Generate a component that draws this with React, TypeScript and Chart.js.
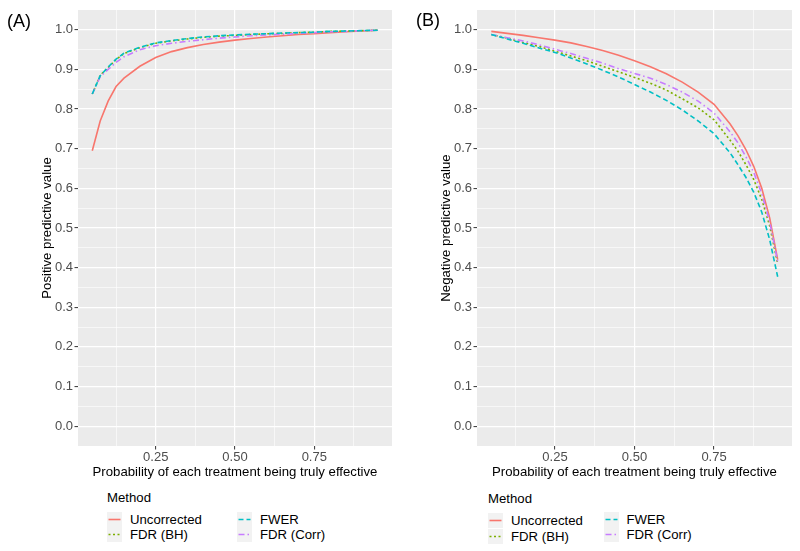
import React, { useEffect, useRef } from "react";
import { Chart, registerables } from "chart.js";

Chart.register(...registerables);

// ---- Data ----
const methods = ["Uncorrected", "FDR (BH)", "FWER", "FDR (Corr)"];
const methodColors = ["#F8766D", "#7CAE00", "#00BFC4", "#C77CFF"];
const methodDashes = [[], [2, 2.5], [5, 3], [6, 3, 1.5, 3]];
const drawOrder = [3, 2, 0, 1];

const xTickValues = [0.25, 0.5, 0.75];
const xMinorValues = [0.125, 0.375, 0.625, 0.875];
const yTickValues = [0, 0.1, 0.2, 0.3, 0.4, 0.5, 0.6, 0.7, 0.8, 0.9, 1.0];
const yMinorValues = [0.05, 0.15, 0.25, 0.35, 0.45, 0.55, 0.65, 0.75, 0.85, 0.95];

// Panel A: positive predictive value
const xA = [0.05, 0.075, 0.1, 0.125, 0.15, 0.2, 0.25, 0.3, 0.35, 0.4, 0.45, 0.5, 0.55, 0.6, 0.65, 0.7, 0.75, 0.8, 0.85, 0.9, 0.95];
const ppvUncorrected = [0.695, 0.77, 0.82, 0.857, 0.878, 0.908, 0.93, 0.945, 0.955, 0.963, 0.969, 0.974, 0.978, 0.982, 0.985, 0.988, 0.99, 0.993, 0.995, 0.997, 0.999];
const ppvFdrBH = [0.838, 0.885, 0.905, 0.925, 0.94, 0.955, 0.966, 0.972, 0.977, 0.981, 0.984, 0.986, 0.988, 0.99, 0.991, 0.993, 0.994, 0.996, 0.997, 0.998, 0.999];
const ppvFwer = [0.838, 0.884, 0.906, 0.926, 0.941, 0.956, 0.967, 0.973, 0.978, 0.982, 0.985, 0.987, 0.989, 0.99, 0.992, 0.993, 0.994, 0.996, 0.997, 0.998, 0.999];
const ppvFdrCorr = [0.838, 0.882, 0.9, 0.918, 0.932, 0.95, 0.96, 0.966, 0.971, 0.975, 0.979, 0.982, 0.985, 0.987, 0.989, 0.991, 0.993, 0.995, 0.996, 0.998, 0.999];

// Panel B: negative predictive value
const xB = [0.05, 0.1, 0.15, 0.2, 0.25, 0.3, 0.35, 0.4, 0.45, 0.5, 0.55, 0.6, 0.65, 0.7, 0.75, 0.8, 0.825, 0.85, 0.875, 0.9, 0.925, 0.95];
const npvUncorrected = [0.996, 0.991, 0.986, 0.98, 0.974, 0.967, 0.958, 0.948, 0.936, 0.922, 0.907, 0.889, 0.868, 0.843, 0.812, 0.763, 0.733, 0.698, 0.655, 0.6, 0.525, 0.42];
const npvFdrBH = [0.988, 0.979, 0.968, 0.958, 0.946, 0.934, 0.922, 0.908, 0.894, 0.88, 0.865, 0.848, 0.826, 0.803, 0.773, 0.722, 0.694, 0.66, 0.622, 0.572, 0.505, 0.41];
const npvFwer = [0.988, 0.977, 0.966, 0.954, 0.943, 0.929, 0.914, 0.898, 0.881, 0.862, 0.843, 0.822, 0.798, 0.77, 0.738, 0.69, 0.66, 0.628, 0.59, 0.54, 0.47, 0.377];
const npvFdrCorr = [0.988, 0.98, 0.972, 0.962, 0.951, 0.94, 0.928, 0.916, 0.902, 0.89, 0.878, 0.862, 0.843, 0.82, 0.79, 0.743, 0.715, 0.68, 0.64, 0.586, 0.515, 0.415];

const FONT = "'Liberation Sans', Arial, Helvetica, sans-serif";

const near = (arr: number[], v: number) => arr.some((t) => Math.abs(t - v) < 1e-9);

const bgPlugin = {
  id: "panelBg",
  beforeDraw(chart: any) {
    const { ctx, chartArea } = chart;
    ctx.save();
    ctx.fillStyle = "#EBEBEB";
    ctx.fillRect(chartArea.left, chartArea.top, chartArea.right - chartArea.left, chartArea.bottom - chartArea.top);
    ctx.restore();
  },
};

function Panel({ xs, series, yTitle, yWidth }: { xs: number[]; series: number[][]; yTitle: string; yWidth: number }) {
  const ref = useRef<HTMLCanvasElement>(null);
  useEffect(() => {
    if (!ref.current) return;
    const chart = new Chart(ref.current, {
      type: "line",
      data: {
        datasets: methods.map((m, i) => ({
          label: m,
          data: xs.map((x, j) => ({ x, y: series[i][j] })),
          borderColor: methodColors[i],
          backgroundColor: methodColors[i],
          borderDash: methodDashes[i],
          borderWidth: 1.6,
          pointRadius: 0,
          tension: 0,
          order: drawOrder[i],
        })),
      },
      options: {
        responsive: false,
        animation: false,
        layout: { padding: { left: 0, top: 10, right: 8, bottom: 0 } },
        plugins: { legend: { display: false }, tooltip: { enabled: false } },
        scales: {
          x: {
            type: "linear",
            min: 0.005,
            max: 0.995,
            afterBuildTicks: (scale: any) => {
              scale.ticks = [...xTickValues, ...xMinorValues].sort((a, b) => a - b).map((v) => ({ value: v }));
            },
            afterFit: (scale: any) => {
              scale.height = 34;
            },
            ticks: {
              autoSkip: false,
              maxRotation: 0,
              padding: 0,
              color: "#4D4D4D",
              font: { family: FONT, size: 13 },
              callback: (v: any) => (near(xTickValues, Number(v)) ? Number(v).toFixed(2) : ""),
            },
            grid: {
              color: "#FFFFFF",
              lineWidth: (c: any) => (near(xTickValues, c.tick?.value) ? 1.2 : 0.6),
              tickColor: (c: any) => (near(xTickValues, c.tick?.value) ? "#333333" : "rgba(0,0,0,0)"),
              tickWidth: 1,
              tickLength: 3.5,
              drawTicks: true,
            },
            border: { display: false },
            title: {
              display: true,
              text: "Probability of each treatment being truly effective",
              color: "#000000",
              font: { family: FONT, size: 13.2 },
              padding: { top: 0, bottom: 0 },
            },
          },
          y: {
            type: "linear",
            min: -0.05,
            max: 1.05,
            afterBuildTicks: (scale: any) => {
              scale.ticks = [...yTickValues, ...yMinorValues].sort((a, b) => a - b).map((v) => ({ value: v }));
            },
            afterFit: (scale: any) => {
              scale.width = yWidth;
            },
            ticks: {
              autoSkip: false,
              padding: 1.5,
              color: "#4D4D4D",
              font: { family: FONT, size: 13 },
              callback: (v: any) => (near(yTickValues, Number(v)) ? Number(v).toFixed(1) : ""),
            },
            grid: {
              color: "#FFFFFF",
              lineWidth: (c: any) => (near(yTickValues, c.tick?.value) ? 1.2 : 0.6),
              tickColor: (c: any) => (near(yTickValues, c.tick?.value) ? "#333333" : "rgba(0,0,0,0)"),
              tickWidth: 1,
              tickLength: 3.5,
              drawTicks: true,
            },
            border: { display: false },
            title: {
              display: true,
              text: yTitle,
              color: "#000000",
              font: { family: FONT, size: 13.2 },
              padding: { top: yWidth - 39, bottom: 0 },
            },
          },
        },
      },
      plugins: [bgPlugin],
    } as any);
    return () => chart.destroy();
  }, []);
  return <canvas ref={ref} width={400} height={480} />;
}

function LegendKey({ i }: { i: number }) {
  return (
    <svg width={15} height={15} style={{ display: "block" }}>
      <rect x={0} y={0} width={15} height={15} fill="#F2F2F2" />
      <line
        x1={1.5}
        y1={7.5}
        x2={13.5}
        y2={7.5}
        stroke={methodColors[i]}
        strokeWidth={1.6}
        strokeDasharray={methodDashes[i].length ? methodDashes[i].join(" ") : undefined}
      />
    </svg>
  );
}

function Legend({ left, top, col2Dx, col2Dy }: { left: number; top: number; col2Dx: number; col2Dy: number }) {
  const text: React.CSSProperties = { position: "absolute", fontFamily: FONT, fontSize: 13.2, color: "#000", lineHeight: "15px", whiteSpace: "nowrap" };
  const items = [
    { i: 0, dx: 0, dy: 0 },
    { i: 1, dx: 0, dy: 15.5 },
    { i: 2, dx: col2Dx, dy: col2Dy },
    { i: 3, dx: col2Dx, dy: col2Dy + 15.5 },
  ];
  return (
    <>
      <div style={{ ...text, left, top: top - 22 }}>Method</div>
      {items.map((it) => (
        <React.Fragment key={it.i}>
          <div style={{ position: "absolute", left: left + it.dx, top: top + it.dy }}>
            <LegendKey i={it.i} />
          </div>
          <div style={{ ...text, left: left + it.dx + 23, top: top + it.dy }}>{methods[it.i]}</div>
        </React.Fragment>
      ))}
    </>
  );
}

export default function App() {
  return (
    <div style={{ position: "absolute", left: 0, top: 0, width: 800, height: 551, background: "#FFFFFF", overflow: "hidden" }}>
      <div style={{ position: "absolute", left: 0, top: 0 }}>
        <Panel xs={xA} series={[ppvUncorrected, ppvFdrBH, ppvFwer, ppvFdrCorr]} yTitle="Positive predictive value" yWidth={78} />
      </div>
      <div style={{ position: "absolute", left: 400, top: 0 }}>
        <Panel xs={xB} series={[npvUncorrected, npvFdrBH, npvFwer, npvFdrCorr]} yTitle="Negative predictive value" yWidth={77} />
      </div>
      <div style={{ position: "absolute", left: 7, top: 11, fontFamily: FONT, fontSize: 18, lineHeight: "20px" }}>(A)</div>
      <div style={{ position: "absolute", left: 416, top: 10, fontFamily: FONT, fontSize: 18, lineHeight: "20px" }}>(B)</div>
      <Legend left={107} top={511.5} col2Dx={130} col2Dy={0} />
      <Legend left={488} top={513} col2Dx={115.5} col2Dy={-1.5} />
    </div>
  );
}
